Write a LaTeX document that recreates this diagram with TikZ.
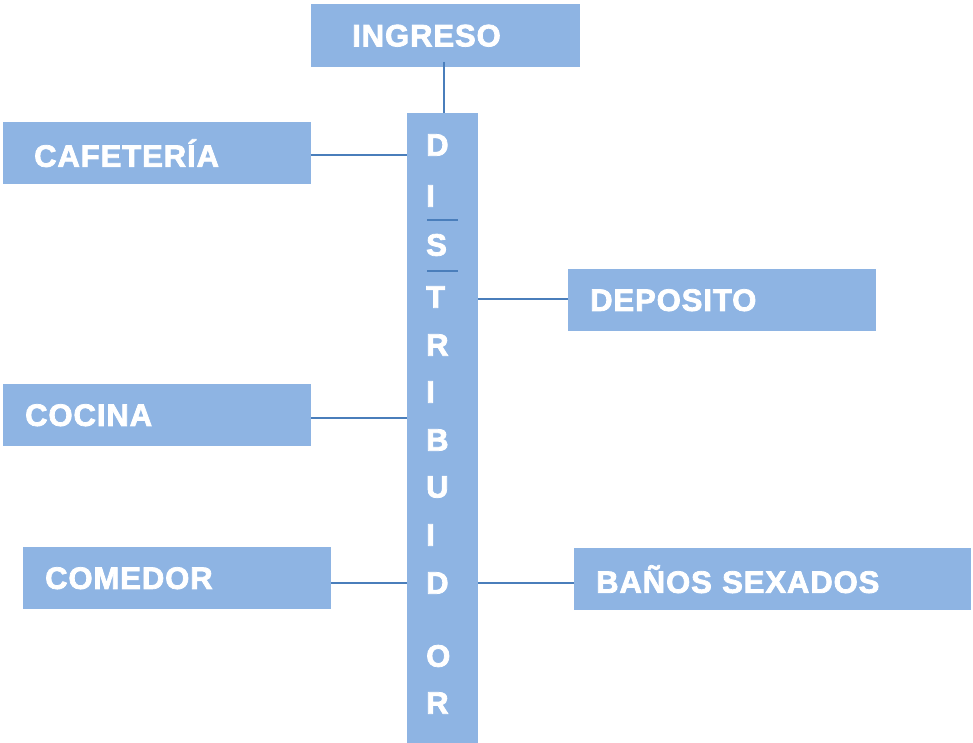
\documentclass[tikz,border=0pt]{standalone}
\usepackage{fontspec}
\setmainfont{Liberation Sans}
\usetikzlibrary{calc}
\definecolor{boxblue}{HTML}{8EB4E3}
\definecolor{lineblue}{HTML}{4A7EBB}
\newfontfamily\labfont[LetterSpace=3,FakeBold=2.5]{Liberation Sans Bold}
\newcommand{\labsize}{\fontsize{31pt}{35pt}\selectfont}
\tikzset{
  room/.style={fill=boxblue, draw=none, anchor=north west, inner ysep=0pt,
    text=white, align=left, font=\labfont\labsize},
  letter/.style={anchor=west, inner sep=0pt, text=white,
    font=\labfont\labsize},
  conn/.style={draw=lineblue, line width=1.6pt},
  tick/.style={draw=lineblue, line width=2.2pt}
}
\begin{document}
\begin{tikzpicture}[x=1pt,y=-1pt]
\useasboundingbox (0,0) rectangle (973,743);
% central bar
\node[fill=boxblue, anchor=north west, minimum width=71pt, minimum height=630pt, inner sep=0pt] (dist) at (407,113) {};
% boxes
\node[room, minimum width=269pt, minimum height=63pt, inner xsep=41pt, text width=187pt] (ing) at (311,4) {INGRESO};
\node[room, minimum width=308pt, minimum height=62pt, inner xsep=31pt, text width=246pt] (caf) at (3,122) {CAFETERÍA};
\node[room, minimum width=308pt, minimum height=62pt, inner xsep=22pt, text width=264pt] (dep) at (568,269) {DEPOSITO};
\node[room, minimum width=308pt, minimum height=62pt, inner xsep=22pt, text width=264pt] (coc) at (3,384) {COCINA};
\node[room, minimum width=308pt, minimum height=62pt, inner xsep=22pt, text width=264pt] (com) at (23,547) {COMEDOR};
\node[room, minimum width=397pt, minimum height=62pt, inner xsep=22pt, text width=353pt] (ban) at (574,548) {BAÑOS SEXADOS};
% letters of the bar
\node[letter] (l1) at (426,145) {D};
\node[letter] (l2) at (426,196) {I};
\node[letter] (l3) at (426,245) {S};
\node[letter] (l4) at (426,297) {T};
\node[letter] (l5) at (426,345) {R};
\node[letter] (l6) at (426,392) {I};
\node[letter] (l7) at (426,440) {B};
\node[letter] (l8) at (426,487) {U};
\node[letter] (l9) at (426,535) {I};
\node[letter] (l10) at (426,583) {D};
\node[letter] (l11) at (426,656) {O};
\node[letter] (l12) at (426,703) {R};
% ticks
\draw[tick] (427,220) -- (458,220);
\draw[tick] (427,271) -- (458,271);
% connectors
\coordinate (ingtop) at (444,62);
\draw[conn] (ingtop) -- (ingtop |- dist.north);
\draw[conn] ($(caf.east)+(0,2)$) -- ($(caf.east -| dist.west)+(0,2)$);
\draw[conn] ($(dep.west)+(0,-1)$) -- ($(dep.west -| dist.east)+(0,-1)$);
\draw[conn] ($(coc.east)+(0,3)$) -- ($(coc.east -| dist.west)+(0,3)$);
\draw[conn] ($(com.east)+(0,5)$) -- ($(com.east -| dist.west)+(0,5)$);
\draw[conn] ($(ban.west)+(0,4)$) -- ($(ban.west -| dist.east)+(0,4)$);
\end{tikzpicture}
\end{document}
